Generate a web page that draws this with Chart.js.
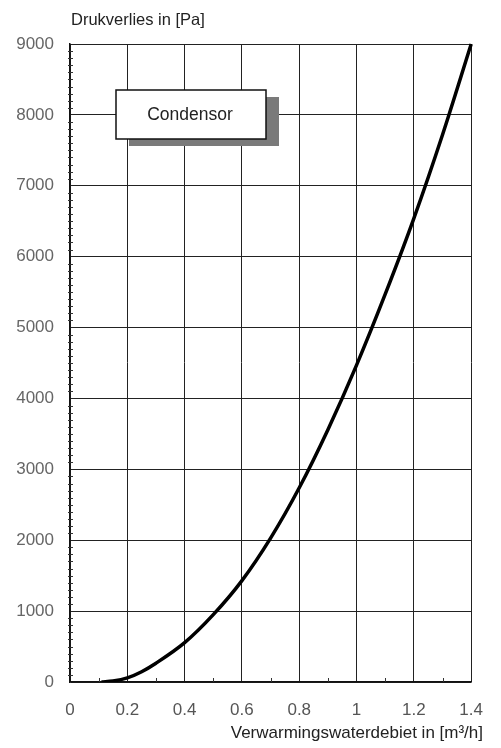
<!DOCTYPE html>
<html>
<head>
<meta charset="utf-8">
<script src="https://cdn.jsdelivr.net/npm/chart.js@4/dist/chart.umd.min.js"></script>
<style>
  html, body { margin: 0; padding: 0; background: #fff; }
  #wrap { width: 501px; height: 748px; }
</style>
</head>
<body>
<div id="wrap"><canvas id="drukChart"></canvas></div>
<script>
// flow (m3/h) and pressure drop (Pa)
const flowValues = [0.11, 0.15, 0.2, 0.25, 0.3, 0.4, 0.5, 0.6, 0.7, 0.8, 0.9, 1.0, 1.1, 1.2, 1.3, 1.4];
const pressureValues = [0, 14, 58, 145, 265, 555, 950, 1430, 2030, 2740, 3560, 4470, 5470, 6540, 7720, 9000];

const yTitle = 'Drukverlies in [Pa]';
const xTitle = 'Verwarmingswaterdebiet in [m³/h]';
const legendLabel = 'Condensor';

const points = flowValues.map((f, i) => ({x: f, y: pressureValues[i]}));

const FONT = '"Liberation Sans", Arial, sans-serif';

//---------------- extra drawing: titles, minor ticks, legend box ----------------//
const decorations = {
  id: 'decorations',
  afterDraw(chart) {
    const c = chart.ctx;
    const xs = chart.scales.x, ys = chart.scales.y;
    const area = chart.chartArea;
    c.save();

    // minor ticks on the y axis (every 100 Pa)
    c.strokeStyle = '#333';
    c.lineWidth = 1;
    for (let v = 100; v < 9000; v += 100) {
      if (v % 1000 === 0) continue;
      const py = Math.round(ys.getPixelForValue(v)) + 0.5;
      c.beginPath();
      c.moveTo(area.left - 2, py);
      c.lineTo(area.left + 3, py);
      c.stroke();
    }
    // minor ticks on the x axis (odd tenths)
    for (let k = 1; k < 14; k += 2) {
      const px = Math.round(xs.getPixelForValue(k / 10)) + 0.5;
      c.beginPath();
      c.moveTo(px, area.bottom);
      c.lineTo(px, area.bottom - 4);
      c.stroke();
    }

    // axis titles
    c.fillStyle = '#222';
    c.font = '16.5px ' + FONT;
    c.textAlign = 'left';
    c.textBaseline = 'middle';
    c.fillText(yTitle, 71, 20);
    c.font = '17px ' + FONT;
    c.textAlign = 'right';
    c.fillText(xTitle, 483, 733);

    // legend box with shadow
    c.fillStyle = '#7a7a7a';
    c.fillRect(129, 97, 150, 49);
    c.fillStyle = '#fff';
    c.fillRect(116, 90, 150, 49);
    c.strokeStyle = '#111';
    c.lineWidth = 1.5;
    c.strokeRect(116, 90, 150, 49);
    c.fillStyle = '#222';
    c.font = '17.5px ' + FONT;
    c.textAlign = 'center';
    c.fillText(legendLabel, 190, 115);

    c.restore();
  }
};

const config = {
  type: 'line',
  data: {
    datasets: [{
      data: points,
      borderColor: '#000',
      borderWidth: 3.5,
      pointRadius: 0,
      cubicInterpolationMode: 'monotone',
      clip: {left: 6, right: 6, top: 6, bottom: 0},
      fill: false
    }]
  },
  options: {
    responsive: true,
    maintainAspectRatio: false,
    animation: false,
    layout: { padding: { top: 44, right: 19, left: 0, bottom: 0 } },
    plugins: { legend: { display: false }, tooltip: { enabled: false }, title: { display: false } },
    scales: {
      x: {
        type: 'linear',
        min: 0,
        max: 1.4,
        afterFit: (s) => { s.height = 66; },
        ticks: {
          stepSize: 0.2,
          autoSkip: false,
          maxRotation: 0,
          padding: 18,
          color: '#555',
          font: { family: FONT, size: 17 },
          callback: (v) => String(Math.round(v * 10) / 10)
        },
        grid: { color: '#222', lineWidth: 1, drawTicks: false },
        border: { color: '#111', width: 1.5 }
      },
      y: {
        min: 0,
        max: 9000,
        afterFit: (s) => { s.width = 70; },
        ticks: {
          stepSize: 1000,
          padding: 16,
          color: '#666',
          font: { family: FONT, size: 17 },
          callback: (v) => String(v)
        },
        grid: { color: '#222', lineWidth: 1, drawTicks: false },
        border: { color: '#111', width: 1.5 }
      }
    }
  },
  plugins: [decorations]
};

const chartDruk = new Chart(document.getElementById('drukChart'), config);
</script>
</body>
</html>
